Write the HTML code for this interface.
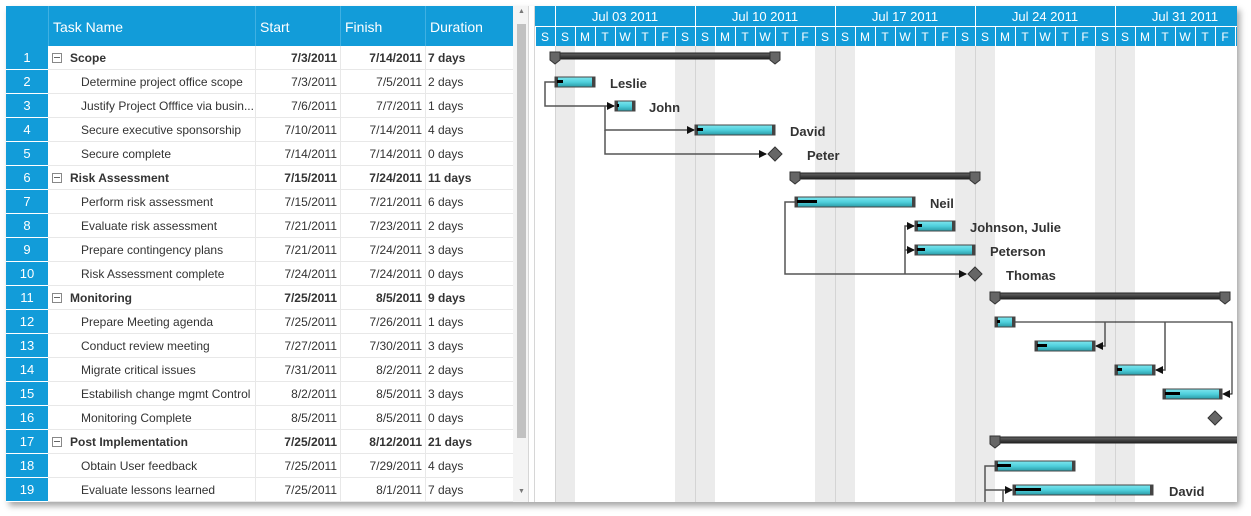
<!DOCTYPE html>
<html><head><meta charset="utf-8"><style>
*{margin:0;padding:0;box-sizing:border-box}
body{width:1251px;height:516px;background:#fff;position:relative;overflow:hidden;font-family:"Liberation Sans",sans-serif}
.frame{position:absolute;left:6px;top:6px;width:1231px;height:496px;background:#fff;box-shadow:3px 4px 6px rgba(0,0,0,0.35);overflow:hidden}
.a{position:absolute;white-space:nowrap}
.hd{background:#129cd9;color:#fff}
.num{color:#fff;font-size:13px;text-align:center;width:42px}
.c{font-size:12px;color:#333;line-height:24px;position:absolute;white-space:nowrap}
.b{font-weight:bold}
</style></head><body>
<div class="frame"></div>
<div class="a hd" style="left:6px;top:6px;width:507px;height:40px"></div>
<div class="a" style="left:48px;top:6px;width:1px;height:40px;background:#3fb0e2"></div>
<div class="a" style="left:255px;top:6px;width:1px;height:40px;background:#3fb0e2"></div>
<div class="a" style="left:340px;top:6px;width:1px;height:40px;background:#3fb0e2"></div>
<div class="a" style="left:425px;top:6px;width:1px;height:40px;background:#3fb0e2"></div>
<div class="a" style="left:53px;top:19px;color:#fff;font-size:14px">Task Name</div>
<div class="a" style="left:260px;top:19px;color:#fff;font-size:14px">Start</div>
<div class="a" style="left:345px;top:19px;color:#fff;font-size:14px">Finish</div>
<div class="a" style="left:430px;top:19px;color:#fff;font-size:14px">Duration</div>
<div class="a hd" style="left:6px;top:46px;width:42px;height:456px"></div>
<div id="rows"></div>
<div class="a" style="left:513px;top:6px;width:15px;height:496px;background:#f4f4f4"></div>
<div class="a" style="left:517px;top:24px;width:9px;height:414px;background:#c1c1c1"></div>
<div class="a" style="left:518px;top:8px;font-size:7px;color:#777">▲</div>
<div class="a" style="left:518px;top:488px;font-size:7px;color:#777">▼</div>
<div class="a" style="left:528px;top:6px;width:7px;height:496px;background:#fff;border-left:1px solid #d6d6d6;border-right:1px solid #d6d6d6"></div>

<svg class="a" style="left:0;top:0" width="1251" height="516" xmlns="http://www.w3.org/2000/svg" font-family="Liberation Sans, sans-serif">
<defs>
<linearGradient id="bar" x1="0" y1="0" x2="0" y2="1"><stop offset="0" stop-color="#7fe6ee"/><stop offset="0.5" stop-color="#4fd0dc"/><stop offset="1" stop-color="#2a9aa6"/></linearGradient>
<linearGradient id="sum" x1="0" y1="0" x2="0" y2="1"><stop offset="0" stop-color="#666"/><stop offset="1" stop-color="#222"/></linearGradient>
<clipPath id="gc"><rect x="535" y="6" width="702" height="496"/></clipPath>
<marker id="ar" markerWidth="8" markerHeight="8" refX="7" refY="4" orient="auto" markerUnits="userSpaceOnUse"><path d="M0,0 L8,4 L0,8z" fill="#111"/></marker>
</defs>
<g clip-path="url(#gc)">
<g fill="#ebebeb">
<rect x="555" y="46" width="20" height="456"/><rect x="675" y="46" width="40" height="456"/><rect x="815" y="46" width="40" height="456"/><rect x="955" y="46" width="40" height="456"/><rect x="1095" y="46" width="40" height="456"/>
</g>
<g stroke="#d4d4d4" stroke-width="1">
<line x1="555.5" y1="46" x2="555.5" y2="502"/><line x1="695.5" y1="46" x2="695.5" y2="502"/><line x1="835.5" y1="46" x2="835.5" y2="502"/><line x1="975.5" y1="46" x2="975.5" y2="502"/><line x1="1115.5" y1="46" x2="1115.5" y2="502"/>
</g>
<rect x="535" y="6" width="702" height="40" fill="#129cd9"/>
<g stroke="#fff" stroke-width="1" id="hdl"></g>
<g fill="#fff" font-size="13" text-anchor="middle" id="hdt"></g>
<g stroke="#555" stroke-width="1.5" fill="none">
<path d="M555,82 H545 V106 H614" marker-end="url(#ar)"/>
<path d="M605,106 V130 H694" marker-end="url(#ar)"/>
<path d="M605,130 V154 H766" marker-end="url(#ar)"/>
<path d="M795,202 H785 V274 H966" marker-end="url(#ar)"/>
<path d="M905,274 V226 H914" marker-end="url(#ar)"/>
<path d="M905,250 H914" marker-end="url(#ar)"/>
<path d="M1015,322 H1232 V394 H1223" stroke="#111" stroke-width="1" marker-end="url(#ar)"/>
<path d="M1105,322 V346 H1096" marker-end="url(#ar)"/>
<path d="M1165,322 V370 H1156" marker-end="url(#ar)"/>
<path d="M995,466 H985 V502"/>
<path d="M985,490 H1012" marker-end="url(#ar)"/>
<path d="M1003,490 V502"/>
</g>
<g id="bars"></g>
<g font-size="13" font-weight="bold" fill="#333">
<text x="610" y="88">Leslie</text><text x="649" y="112">John</text><text x="790" y="136">David</text><text x="807" y="160">Peter</text>
<text x="930" y="208">Neil</text><text x="970" y="232">Johnson, Julie</text><text x="990" y="256">Peterson</text><text x="1006" y="280">Thomas</text>
<text x="1169" y="496">David</text>
</g>
</g>
</svg>
<script>
var rows=[["Scope","7/3/2011","7/14/2011","7 days",1],["Determine project office scope","7/3/2011","7/5/2011","2 days"],["Justify Project Offfice via busin...","7/6/2011","7/7/2011","1 days"],["Secure executive sponsorship","7/10/2011","7/14/2011","4 days"],["Secure complete","7/14/2011","7/14/2011","0 days"],["Risk Assessment","7/15/2011","7/24/2011","11 days",1],["Perform risk assessment","7/15/2011","7/21/2011","6 days"],["Evaluate risk assessment","7/21/2011","7/23/2011","2 days"],["Prepare contingency plans","7/21/2011","7/24/2011","3 days"],["Risk Assessment complete","7/24/2011","7/24/2011","0 days"],["Monitoring","7/25/2011","8/5/2011","9 days",1],["Prepare Meeting agenda","7/25/2011","7/26/2011","1 days"],["Conduct review meeting","7/27/2011","7/30/2011","3 days"],["Migrate critical issues","7/31/2011","8/2/2011","2 days"],["Estabilish change mgmt Control","8/2/2011","8/5/2011","3 days"],["Monitoring Complete","8/5/2011","8/5/2011","0 days"],["Post Implementation","7/25/2011","8/12/2011","21 days",1],["Obtain User feedback","7/25/2011","7/29/2011","4 days"],["Evaluate lessons learned","7/25/2011","8/1/2011","7 days"]];
var h="";
rows.forEach(function(r,i){var t=46+24*i,b=r[4]?" b":"";
h+='<div class="a" style="left:6px;top:'+(t+23)+'px;width:42px;height:1px;background:#fff"></div>';
h+='<div class="a num" style="left:6px;top:'+t+'px;line-height:24px">'+(i+1)+'</div>';
h+='<div class="a" style="left:48px;top:'+(t+23)+'px;width:465px;height:1px;background:#e8e8e8"></div>';
['255','340','425'].forEach(function(x){h+='<div class="a" style="left:'+x+'px;top:'+t+'px;width:1px;height:24px;background:#e8e8e8"></div>'});
if(r[4]){h+='<div class="a" style="left:52px;top:'+(t+7)+'px;width:10px;height:10px;border:1px solid #888"></div><div class="a" style="left:54px;top:'+(t+11)+'px;width:6px;height:1px;background:#666"></div>';}
h+='<div class="c'+b+'" style="left:'+(r[4]?70:81)+'px;top:'+t+'px;width:172px;overflow:hidden">'+r[0]+'</div>';
h+='<div class="c'+b+'" style="left:255px;top:'+t+'px;width:82px;text-align:right">'+r[1]+'</div>';
h+='<div class="c'+b+'" style="left:340px;top:'+t+'px;width:82px;text-align:right">'+r[2]+'</div>';
h+='<div class="c'+b+'" style="left:428px;top:'+t+'px">'+r[3]+'</div>';});
document.getElementById('rows').innerHTML=h;
var L="",T="";
for(var w=0;w<6;w++){var x=555+140*w;L+='<line x1="'+(x+.5)+'" y1="6" x2="'+(x+.5)+'" y2="46"/>';T+='<text x="'+(x+70)+'" y="21">Jul '+["03","10","17","24","31","07"][w]+' 2011</text>';}
L+='<line x1="535" y1="26.5" x2="1237" y2="26.5"/>';
for(var d=0;d<36;d++){var x=535+20*d;L+='<line x1="'+(x+.5)+'" y1="26" x2="'+(x+.5)+'" y2="46"/>';T+='<text x="'+(x+10)+'" y="41" font-size="12">'+"SSMTWTF"[d%7]+'</text>';}
document.getElementById('hdl').innerHTML=L;document.getElementById('hdt').innerHTML=T;
var B="";
function task(r,x1,x2,p){var y=58+24*(r-1)-5;B+='<rect x="'+x1+'" y="'+y+'" width="'+(x2-x1)+'" height="10" fill="url(#bar)" stroke="#444" stroke-width="1"/><rect x="'+x1+'" y="'+y+'" width="3" height="10" fill="#444"/><rect x="'+(x2-3)+'" y="'+y+'" width="3" height="10" fill="#444"/>';if(p)B+='<rect x="'+(x1+2)+'" y="'+(y+3)+'" width="'+p+'" height="3" fill="#000"/>';}
function sum(r,x1,x2){var y=58+24*(r-1)-5;B+='<rect x="'+x1+'" y="'+y+'" width="'+(x2-x1)+'" height="6" fill="url(#sum)" stroke="#222"/>';[x1,x2].forEach(function(x){B+='<path d="M'+(x-5)+','+(y-1)+' H'+(x+5)+' V'+(y+7)+' L'+x+','+(y+11)+' L'+(x-5)+','+(y+7)+'z" fill="#666" stroke="#333"/>'});}
function ms(r,x){var y=58+24*(r-1);B+='<path d="M'+x+','+(y-7)+' L'+(x+7)+','+y+' L'+x+','+(y+7)+' L'+(x-7)+','+y+'z" fill="#666" stroke="#333"/>';}
sum(1,555,775);task(2,555,595,6);task(3,615,635,2);task(4,695,775,6);ms(5,775);
sum(6,795,975);task(7,795,915,20);task(8,915,955,5);task(9,915,975,8);ms(10,975);
sum(11,995,1225);task(12,995,1015,3);task(13,1035,1095,10);task(14,1115,1155,5);task(15,1163,1222,15);ms(16,1215);
sum(17,995,1300);task(18,995,1075,14);task(19,1013,1153,26);
document.getElementById('bars').innerHTML=B;
</script>
</body></html>
